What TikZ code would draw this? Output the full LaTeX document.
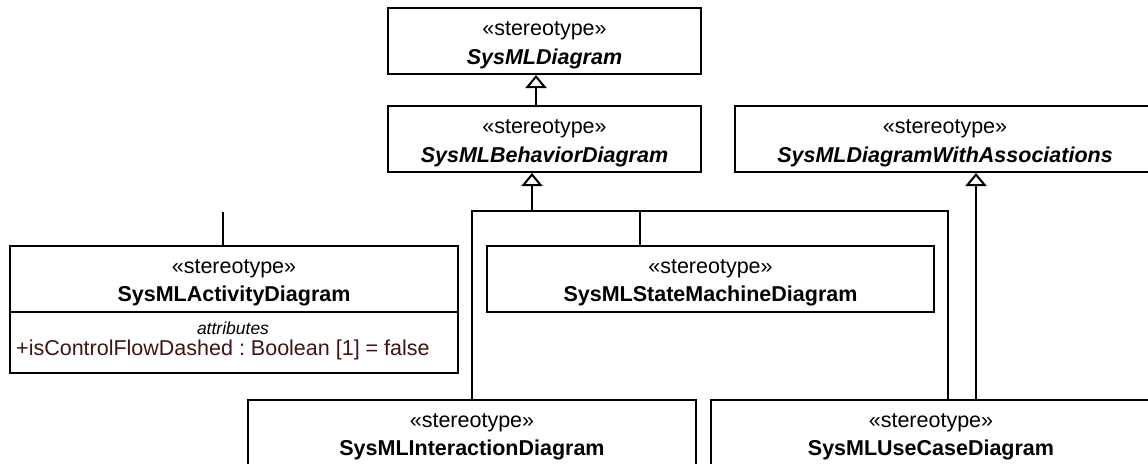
\documentclass[tikz,border=0pt]{standalone}
\usepackage{fontspec}
\setmainfont{Liberation Sans}
\usetikzlibrary{arrows.meta}
\definecolor{attrcol}{RGB}{64,18,18}
\newcommand\umlstereo[1]{\rule{0pt}{22pt}«stereotype»\\#1}
\frenchspacing
\begin{document}
\begin{tikzpicture}[x=1pt,y=-1pt,
  umlbox/.style={draw, line width=2pt, inner sep=0pt, align=center, anchor=north west,
    minimum height=66pt, font=\fontsize{21.5}{28.5}\selectfont},
  compart/.style={draw, line width=2pt, inner sep=0pt, anchor=north west},
  gen/.style={line width=2pt, -{Triangle[open, width=21pt, length=13pt, line width=2pt]}},
  conn/.style={line width=2pt},
  attrhead/.style={font=\fontsize{17.5}{20}\selectfont\itshape, inner sep=0pt},
  attrtext/.style={font=\fontsize{21.5}{26}\selectfont, text=attrcol, inner sep=0pt, anchor=west}]
\useasboundingbox (0,0) rectangle (1148,463);
\clip (0,0) rectangle (1148,463);

\node[umlbox, minimum width=313pt] (D) at (387,7) {\umlstereo{\textbf{\textit{SysMLDiagram}}}};
\node[umlbox, minimum width=313pt] (BD) at (387,105) {\umlstereo{\textbf{\textit{SysMLBehaviorDiagram}}}};
\node[umlbox, minimum width=420pt] (DWA) at (734,105) {\umlstereo{\textbf{\textit{SysMLDiagramWithAssociations}}}};
\node[umlbox, minimum width=448pt] (AD) at (9,245) {\umlstereo{\textbf{SysMLActivityDiagram}}};
\node[compart, minimum width=448pt, minimum height=61pt] (ADattr) at (9,311) {};
\node[attrhead] (attrh) at (233,328) {attributes};
\node[attrtext] (attr) at (16,350) {+isControlFlowDashed : Boolean [1] = false};
\node[umlbox, minimum width=447pt] (SM) at (486,245) {\umlstereo{\textbf{SysMLStateMachineDiagram}}};
\node[umlbox, minimum width=448pt] (ID) at (247,399) {\umlstereo{\textbf{SysMLInteractionDiagram}}};
\node[umlbox, minimum width=440pt] (UC) at (710,399) {\umlstereo{\textbf{SysMLUseCaseDiagram}}};

% generalizations
\coordinate (gBD) at (536,0);
\draw[gen] (BD.north -| gBD) -- (D.south -| gBD);

\coordinate (busL) at (472,211);
\coordinate (busR) at (948,211);
\coordinate (busJ) at (532,211);
\coordinate (busSM) at (640,211);
\draw[conn] (ID.north -| busL) -- (busL) -- (busR) -- (UC.north -| busR);
\draw[gen] (busJ) -- (busJ |- BD.south);
\draw[conn] (busSM) -- (busSM |- SM.north);

\coordinate (stub) at (223,212);
\draw[conn] (stub) -- (stub |- AD.north);

\coordinate (gUC) at (976,0);
\draw[gen] (UC.north -| gUC) -- (DWA.south -| gUC);
\end{tikzpicture}
\end{document}
